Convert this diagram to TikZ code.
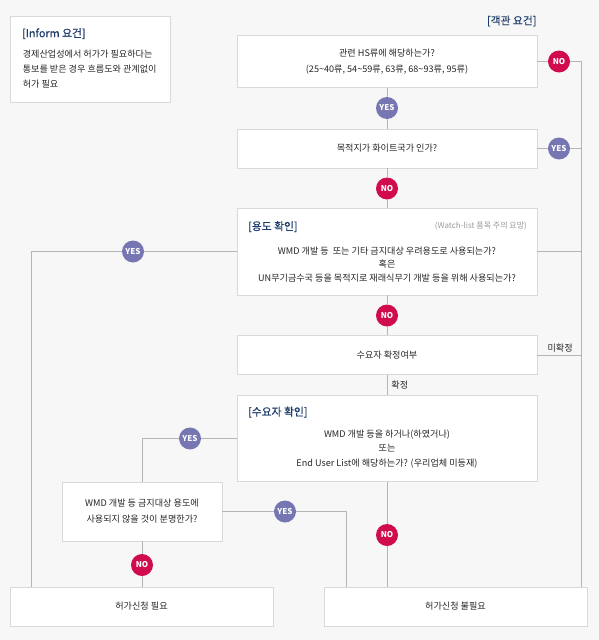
\documentclass[tikz,border=0pt]{standalone}
\usepackage{fontspec}
\setmainfont{Noto Sans CJK KR}
\newfontfamily\titlefont[FakeBold=0.6]{Noto Sans CJK KR}
\usetikzlibrary{positioning}
\definecolor{bgc}{HTML}{F7F7F7}
\definecolor{boxline}{HTML}{D9D9D9}
\definecolor{linec}{HTML}{B5B5B5}
\definecolor{txt}{HTML}{262626}
\definecolor{navy}{HTML}{1F3D6B}
\definecolor{noc}{HTML}{D00C4C}
\definecolor{yesc}{HTML}{7676B2}
\definecolor{notec}{HTML}{9A9A9A}
\begin{document}
\begin{tikzpicture}[x=1pt,y=-1pt,
  every node/.style={font=\fontsize{9.1}{16}\selectfont,text=txt},
  box/.style={draw=boxline,fill=white,line width=0.8pt,minimum width=300pt,align=center,inner sep=0pt},
  title/.style={font=\titlefont\fontsize{10.8}{12}\selectfont,text=navy,anchor=west},
  yes/.style={circle,fill=yesc,minimum size=22pt,inner sep=0pt,font=\fontsize{8}{8}\bfseries,text=white},
  no/.style={yes,fill=noc},
  link/.style={draw=linec,line width=0.9pt}]
\fill[bgc] (0,0) rectangle (599,640);
% left note
\node[box,minimum width=160pt,minimum height=86pt] (inform) at (90,59) {};
\node[title] (informt) at ([shift={(9,18)}]inform.north west) {[Inform 요건]};
\node[anchor=north west,align=left,inner sep=0pt,font=\fontsize{9.1}{15}\selectfont] (informb) at ([shift={(13,34)}]inform.north west)
  {경제산업성에서 허가가 필요하다는\\통보를 받은 경우 흐름도와 관계없이\\허가 필요};
% main column
\node[title,anchor=east] (obj) at (540,21) {[객관 요건]};
\node[box,minimum height=52pt] (hs) at (387,61.5) {관련 HS류에 해당하는가?\\(25\textasciitilde40류, 54\textasciitilde59류, 63류, 68\textasciitilde93류, 95류)};
\node[box,minimum height=39pt] (white) at (387,148.5) {목적지가 화이트국가 인가?};
\node[box,minimum height=87pt] (use) at (387,251.5) {};
\node[title] (uset) at ([shift={(8,19)}]use.north west) {[용도 확인]};
\node[anchor=east,font=\fontsize{8}{9}\selectfont,text=notec] (usen) at ([shift={(-7,18.5)}]use.north east) {(Watch-list 품목 주의 요망)};
\node[align=center,font=\fontsize{9.1}{13.5}\selectfont] (useb) at (387,264.5)
  {WMD 개발 등 \ 또는 기타 금지대상 우려용도로 사용되는가?\\혹은\\UN무기금수국 등을 목적지로 재래식무기 개발 등을 위해 사용되는가?};
\node[box,minimum height=39pt] (conf) at (387,355) {수요자 확정여부};
\node[box,minimum height=86pt] (user) at (387,438.5) {};
\node[title] (usert) at ([shift={(8,17)}]user.north west) {[수요자 확인]};
\node[align=center,font=\fontsize{9.1}{14.5}\selectfont] (userb) at (387,449)
  {WMD 개발 등을 하거나(하였거나)\\또는\\End User List에 해당하는가? (우리업체 미등재)};
\node[box,minimum width=160pt,minimum height=59pt] (clear) at (142,511.5) {WMD 개발 등 금지대상 용도에\\사용되지 않을 것이 분명한가?};
\node[box,minimum width=263pt,minimum height=39pt] (req) at (141.5,606.5) {허가신청 필요};
\node[box,minimum width=263pt,minimum height=39pt] (nreq) at (455.5,606.5) {허가신청 불필요};
% answers
\node[yes] (yes1) at (387,108) {YES};
\node[no] (no1) at (559,61.5) {NO};
\node[yes] (yes2) at (559,148.5) {YES};
\node[no] (no2) at (387,188.5) {NO};
\node[yes] (yes3) at (133,251.5) {YES};
\node[no] (no3) at (387,315.5) {NO};
\node[yes] (yes5) at (190,438.5) {YES};
\node[no] (no5) at (387,535) {NO};
\node[yes] (yes6) at (285,511.5) {YES};
\node[no] (no6) at (142,565) {NO};
\coordinate (rt) at (581,61.5);
\coordinate (lt) at (31,251.5);
\coordinate (c6) at (346,511.5);
% connectors
\draw[link] (hs.south) -- (yes1) -- (white.north);
\draw[link] (hs.east) -- (no1) -- (rt) -- (rt |- nreq.north);
\draw[link] (white.east) -- (yes2) -- (white.east -| rt);
\draw[link] (white.south) -- (no2) -- (use.north);
\draw[link] (use.east) -- (use.east -| rt);
\draw[link] (use.west) -- (yes3) -- (lt) -- (lt |- req.north);
\draw[link] (use.south) -- (no3) -- (conf.north);
\draw[link] (conf.east) -- node[above,pos=0.52,inner sep=2pt] (unconf) {미확정} (conf.east -| rt);
\draw[link] (conf.south) -- node[right,inner sep=4pt] (confl) {확정} (user.north);
\draw[link] (user.west) -- (yes5) -- (yes5 -| clear.north) -- (clear.north);
\draw[link] (user.south) -- (no5) -- (no5 |- nreq.north);
\draw[link] (clear.east) -- (yes6) -- (c6) -- (c6 |- nreq.north);
\draw[link] (clear.south) -- (no6) -- (no6 |- req.north);
\end{tikzpicture}
\end{document}
